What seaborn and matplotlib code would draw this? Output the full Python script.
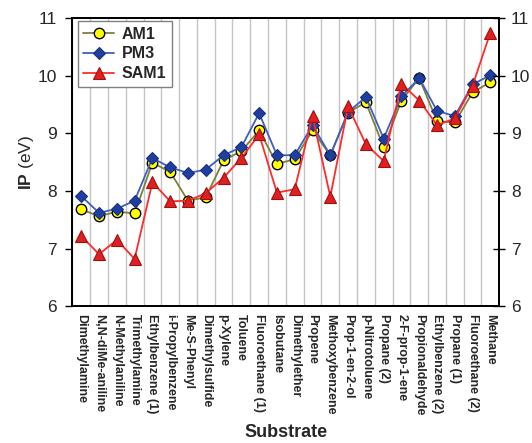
import matplotlib
matplotlib.use('Agg')

import matplotlib.pyplot as plt
import seaborn as sns
import numpy as np

substrates = ['Dimethylamine', 'N,N-diMe-aniline', 'N-Methylaniline', 'Trimethylamine',
              'Ethylbenzene (1)', 'i-Propylbenzene', 'Me-S-Phenyl', 'Dimethylsulfide',
              'p-Xylene', 'Toluene', 'Fluoroethane (1)', 'Isobutane', 'Dimethylether',
              'Propene', 'Methoxybenzene', 'Prop-1-en-2-ol', 'p-Nitrotoluene', 'Propane (2)',
              '2-F-prop-1-ene', 'Propionaldehyde', 'Ethylbenzene (2)', 'Propane (1)',
              'Fluoroethane (2)', 'Methane']

am1 = [7.68, 7.56, 7.64, 7.61, 8.49, 8.33, 7.83, 7.89, 8.53, 8.69, 9.05, 8.47, 8.55,
       9.05, 8.62, 9.36, 9.54, 8.76, 9.57, 9.96, 9.21, 9.19, 9.71, 9.89]
pm3 = [7.91, 7.62, 7.69, 7.83, 8.57, 8.41, 8.31, 8.37, 8.62, 8.76, 9.35, 8.62, 8.62,
       9.14, 8.62, 9.37, 9.63, 8.91, 9.64, 9.96, 9.39, 9.30, 9.85, 10.01]
sam1 = [7.22, 6.90, 7.15, 6.82, 8.15, 7.82, 7.83, 7.96, 8.23, 8.57, 8.98, 7.97, 8.03,
        9.30, 7.90, 9.47, 8.81, 8.52, 9.86, 9.57, 9.14, 9.26, 9.83, 10.75]

sns.set_style('white')
plt.rcParams['font.family'] = ['Liberation Sans', 'DejaVu Sans']
plt.rcParams['mathtext.fontset'] = 'custom'
plt.rcParams['mathtext.bf'] = 'Liberation Sans:bold'
plt.rcParams['mathtext.rm'] = 'Liberation Sans'

fig = plt.figure(figsize=(5.32, 4.43), dpi=100)
ax = fig.add_axes([0.136, 0.309, 0.8025, 0.650])

pos = np.arange(len(substrates))

sns.lineplot(x=pos, y=am1, ax=ax, sort=False, color='#7f7f3a', lw=1.3,
             marker='o', markersize=7.5, markerfacecolor='#ffff00',
             markeredgecolor='black', markeredgewidth=1.0, label='AM1')
sns.lineplot(x=pos, y=pm3, ax=ax, sort=False, color='#3f5fc0', lw=1.3,
             marker='D', markersize=6.5, markerfacecolor='#1f3f9f',
             markeredgecolor='#1a2f80', markeredgewidth=0.8, label='PM3')
sns.lineplot(x=pos, y=sam1, ax=ax, sort=False, color='#ff2a2a', lw=1.3,
             marker='^', markersize=9, markerfacecolor='#e02020',
             markeredgecolor='#a01010', markeredgewidth=0.8, label='SAM1')

ax.set_xlim(-0.5, len(substrates) - 0.5)
ax.set_ylim(6, 11)
ax.set_yticks([6, 7, 8, 9, 10, 11])
ax.set_xticks(pos)
ax.set_xticklabels(substrates, rotation=-90, fontsize=9, fontweight='bold')
ax.set_xticks(np.arange(len(substrates) + 1) - 0.5, minor=True)
ax.tick_params(axis='x', which='major', length=0, pad=6)
ax.tick_params(axis='x', which='minor', direction='inout', length=6, width=1, color='#444444')
ax.tick_params(axis='y', direction='out', length=5, width=1, labelsize=12.5, color='black', pad=6)
ax.xaxis.grid(True, which='minor', color='#c4c4c4', lw=1)
ax.yaxis.grid(False)

for s in ax.spines.values():
    s.set_color('black')
    s.set_linewidth(1.3)

ax.set_xlabel('Substrate', fontsize=13, fontweight='bold', labelpad=6)
ax.set_ylabel(r'$\mathbf{IP}$ (eV)', fontsize=12.5, labelpad=1)

ax2 = ax.twinx()
ax2.set_ylim(6, 11)
ax2.set_yticks([6, 7, 8, 9, 10, 11])
ax2.tick_params(axis='y', direction='inout', length=9, width=1, labelsize=12.5, color='black', pad=4)
for s in ax2.spines.values():
    s.set_color('black')
    s.set_linewidth(1.3)

leg = ax.legend(loc='upper left', bbox_to_anchor=(0.013, 0.99), borderaxespad=0,
                frameon=True, fancybox=False,
                edgecolor='#808080', framealpha=1, prop={'weight': 'bold', 'size': 11.5},
                handlelength=1.9, borderpad=0.35, labelspacing=0.3, handletextpad=0.5)
leg.get_frame().set_linewidth(1.0)

plt.savefig('out.png', dpi=100)
